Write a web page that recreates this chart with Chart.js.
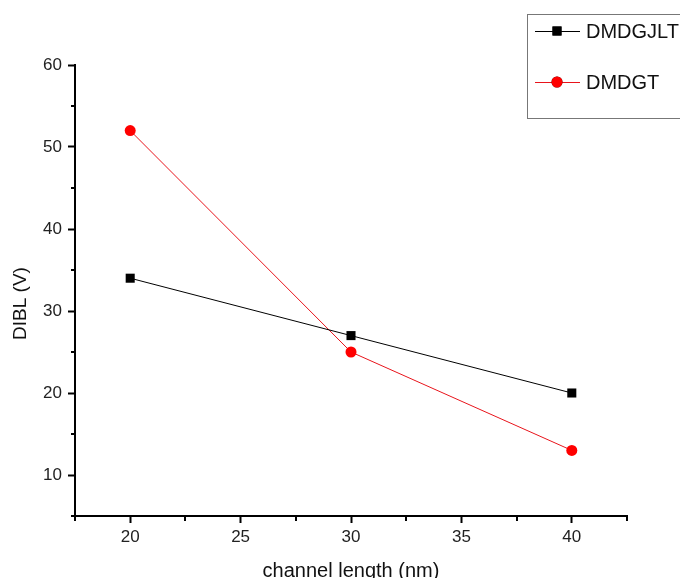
<!DOCTYPE html>
<html>
<head>
<meta charset="utf-8">
<script src="https://cdn.jsdelivr.net/npm/chart.js@4/dist/chart.umd.min.js"></script>
<style>
  html, body { margin: 0; padding: 0; background: #fff; }
  #wrap { width: 680px; height: 578px; }
</style>
</head>
<body>
<div id="wrap"><canvas id="chart" width="680" height="578"></canvas></div>
<script>
// data
const channelLength = [20, 30, 40];
const dmdgjlt = [34, 27, 20];
const dmdgt = [52, 25, 13];
const xTicks = [20, 25, 30, 35, 40];
const yTicks = [10, 20, 30, 40, 50, 60];
const seriesNames = ["DMDGJLT", "DMDGT"];
const xTitle = "channel length (nm)";
const yTitle = "DIBL (V)";

const FONT = "'Liberation Sans', Arial, sans-serif";

function pts(ys) {
  return channelLength.map((x, i) => ({ x: x, y: ys[i] }));
}

// minor ticks, axis titles and legend box, drawn after the chart
const extras = {
  id: "extras",
  afterDraw(chart) {
    const c = chart.ctx;
    const xs = chart.scales.x, ys = chart.scales.y;
    c.save();
    c.strokeStyle = "#000";
    c.lineWidth = 2;
    // minor ticks halfway between majors
    for (let v = xs.min; v <= xs.max + 0.01; v += 2.5) {
      if (xTicks.includes(v)) continue;
      const px = Math.round(xs.getPixelForValue(v));
      c.beginPath();
      c.moveTo(px, xs.top);
      c.lineTo(px, xs.top + 5);
      c.stroke();
    }
    for (let v = ys.min; v <= ys.max + 0.01; v += 5) {
      if (yTicks.includes(v)) continue;
      const py = Math.round(ys.getPixelForValue(v));
      c.beginPath();
      c.moveTo(ys.right, py);
      c.lineTo(ys.right - 4, py);
      c.stroke();
    }

    // x title, cut off at the bottom edge like the original
    c.fillStyle = "#111";
    c.font = "20px " + FONT;
    c.textAlign = "center";
    c.textBaseline = "alphabetic";
    c.fillText(xTitle, (xs.left + xs.right) / 2, 577);

    // y title, sits a bit below the middle of the axis in the original
    c.save();
    c.translate(21, (ys.top + ys.bottom) / 2 + 13);
    c.rotate(-Math.PI / 2);
    c.font = "19px " + FONT;
    c.textBaseline = "middle";
    c.fillText(yTitle, 0, 0);
    c.restore();

    // legend
    c.strokeStyle = "#777";
    c.lineWidth = 1;
    c.strokeRect(527.5, 14.5, 170, 104);
    const rows = [
      { ds: chart.data.datasets[0], y: 31 },
      { ds: chart.data.datasets[1], y: 82 }
    ];
    rows.forEach((r) => {
      c.strokeStyle = r.ds.borderColor;
      c.lineWidth = 1;
      c.beginPath();
      c.moveTo(535, r.y + 0.5);
      c.lineTo(580, r.y + 0.5);
      c.stroke();
      Chart.helpers.drawPoint(c, {
        pointStyle: r.ds.pointStyle,
        radius: r.ds.pointRadius,
        borderWidth: 0
      }, 557, r.y);
      c.fillStyle = r.ds.pointBackgroundColor;
      c.fill();
      c.fillStyle = "#111";
      c.font = "20px " + FONT;
      c.textBaseline = "middle";
      c.textAlign = "left";
      c.fillText(r.ds.label, 586, r.y + 1);
    });
    c.restore();
  }
};

const ctx = document.getElementById("chart").getContext("2d");
const chart = new Chart(ctx, {
  type: "scatter",
  data: {
    datasets: [
      {
        label: seriesNames[0],
        data: pts(dmdgjlt),
        showLine: true,
        borderColor: "#000",
        borderWidth: 1,
        pointStyle: "rect",
        pointRadius: 6.4,
        pointBackgroundColor: "#000",
        pointBorderWidth: 0
      },
      {
        label: seriesNames[1],
        data: pts(dmdgt),
        showLine: true,
        borderColor: "#e8141b",
        borderWidth: 1,
        pointStyle: "circle",
        pointRadius: 5.5,
        pointBackgroundColor: "#f00",
        pointBorderWidth: 0
      }
    ]
  },
  options: {
    responsive: false,
    animation: false,
    layout: { padding: { left: 0, right: 53, top: 65, bottom: 0 } },
    plugins: {
      legend: { display: false },
      tooltip: { enabled: false }
    },
    scales: {
      x: {
        type: "linear",
        min: 17.5,
        max: 42.5,
        afterBuildTicks: (s) => { s.ticks = xTicks.map((v) => ({ value: v })); },
        afterFit: (s) => { s.height = 62; },
        border: { color: "#000", width: 2 },
        grid: { drawOnChartArea: false, color: "#000", tickLength: 7, tickWidth: 2 },
        ticks: { color: "#222", font: { family: FONT, size: 17 }, padding: 4 },
        title: { display: false }
      },
      y: {
        min: 5,
        max: 60,
        afterBuildTicks: (s) => { s.ticks = yTicks.map((v) => ({ value: v })); },
        afterFit: (s) => { s.width = 75; },
        border: { color: "#000", width: 2 },
        grid: { drawOnChartArea: false, color: "#000", tickLength: 7, tickWidth: 2 },
        ticks: { color: "#222", font: { family: FONT, size: 17 }, padding: 6 },
        title: { display: false }
      }
    }
  },
  plugins: [extras]
});
</script>
</body>
</html>
